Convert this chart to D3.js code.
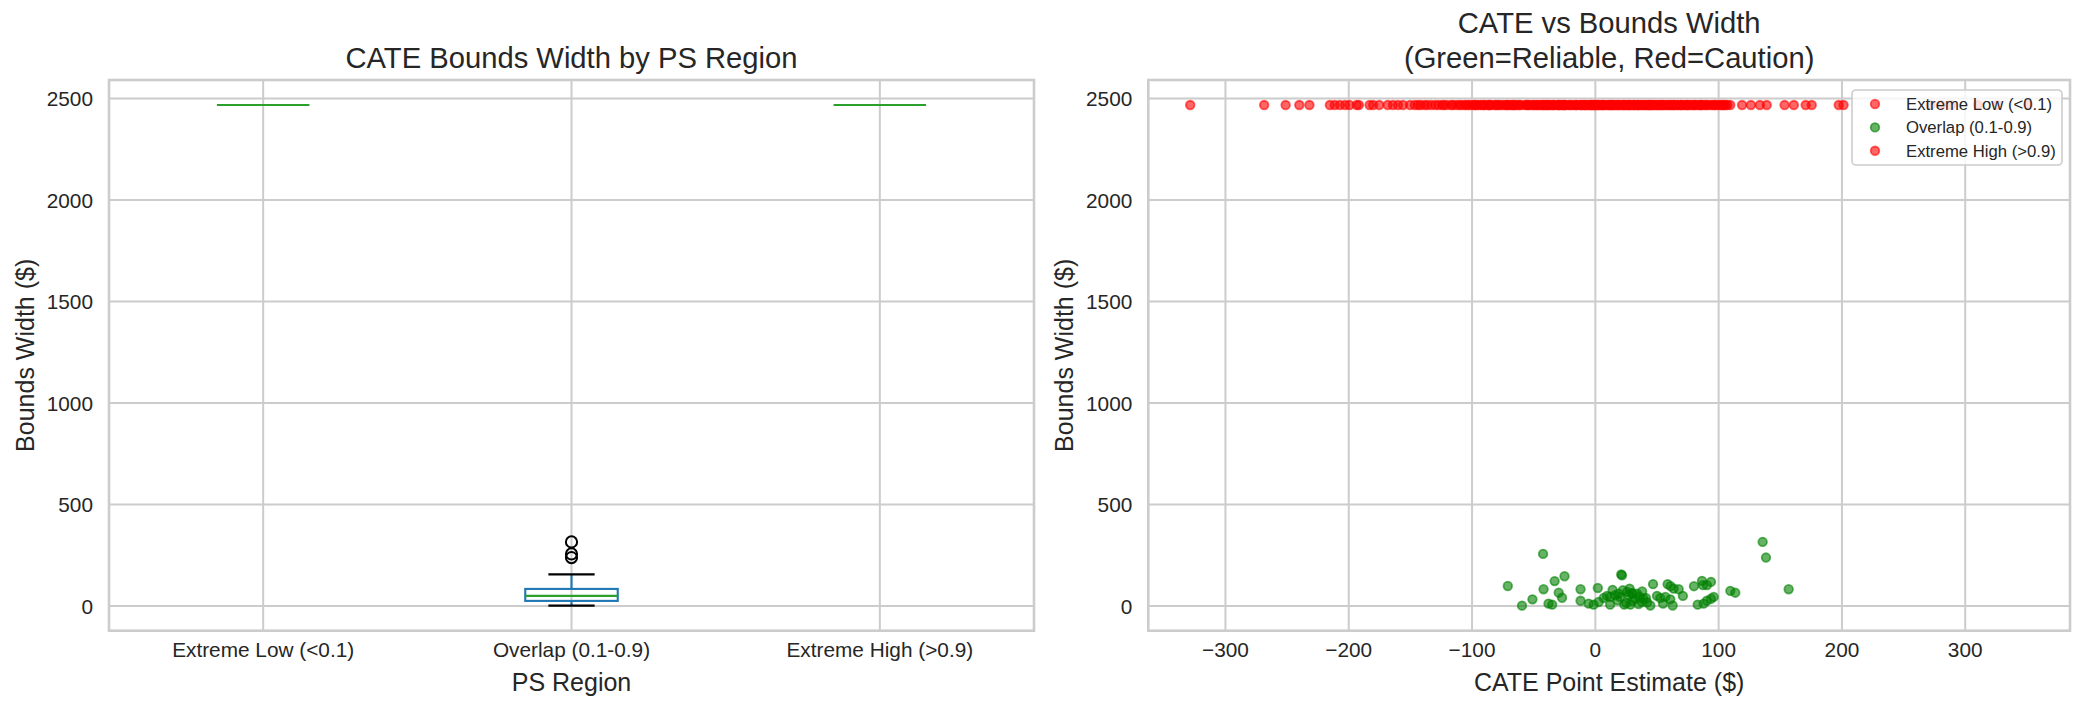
<!DOCTYPE html>
<html>
<head>
<meta charset="utf-8">
<script src="https://cdn.jsdelivr.net/npm/d3@7/dist/d3.min.js"></script>
<style>
  body { margin: 0; background: #fff; }
  text { font-family: "Liberation Sans", Arial, sans-serif; fill: #262626; }
</style>
</head>
<body>
<svg id="chart" width="2084" height="712"></svg>
<script>
// ---- data ----
var regions = ["Extreme Low (<0.1)", "Overlap (0.1-0.9)", "Extreme High (>0.9)"];
var yTicks = [0, 500, 1000, 1500, 2000, 2500];
var xTicks = [-300, -200, -100, 0, 100, 200, 300];

// every extreme-PS unit gets the same (maximal) bounds width
var extremeWidth = 2468;

var lowCate = [-328.6, -251.2, -231.9, -211.4, -203.0, -193.6, -183.1, -175.3, -164.2, -156.0,
  -146.4, -136.2, -129.8, -120.5, -112.9, -106.3, -98.7, -95.2, -89.6, -84.1, -77.9, -74.3,
  -67.5, -64.8, -57.2, -52.6, -49.9, -43.1, -39.4, -36.2, -30.7, -26.1, -23.8, -17.5, -14.9,
  -9.6, -5.3, -2.8, 1.4, 4.9, 8.2, 13.7, 16.5, 20.1, 24.6, 28.3, 33.9, 36.4, 40.8, 45.2, 48.7,
  52.9, 58.1, 61.6, 66.3, 71.8, 76.4, 82.5, 87.1, 93.6, 99.2, 105.8, 119.0, 133.5, 153.5,
  170.6, 197.4, 271.8, 288.3, 326.0,
  -141.7, -124.3, -108.8, -101.5, -93.4, -86.2, -81.3, -72.6, -69.1, -61.7, -55.0, -47.6,
  -44.8, -38.3, -33.9, -29.2, -24.7, -19.6, -12.3, -8.4, -4.1, -0.9, 2.6, 6.3, 11.5, 14.8,
  19.2, 23.3, 27.4, 31.8, 34.7, 39.6, 42.9, 46.3, 51.4, 54.7, 60.2, 63.9, 68.8, 73.5, 77.7,
  81.2, 86.0, 91.4, 97.3, 103.6, 109.4];

var highCate = [-268.6, -240.1, -215.3, -207.2, -199.4, -191.8, -180.2, -168.4, -160.1, -150.3,
  -143.8, -133.1, -127.2, -117.0, -110.4, -102.9, -96.8, -91.7, -87.0, -80.6, -76.2, -70.9,
  -65.4, -60.3, -55.8, -50.7, -46.2, -41.5, -37.8, -33.0, -28.4, -25.0, -20.3, -16.2, -11.8,
  -7.9, -3.6, -0.5, 3.1, 6.7, 10.9, 12.4, 18.3, 22.7, 26.9, 30.6, 35.1, 38.9, 43.5, 47.0, 50.8,
  55.4, 59.7, 64.2, 69.5, 74.1, 79.6, 85.3, 90.2, 96.7, 102.4, 107.1, 126.2, 139.0, 161.0,
  175.5, 201.3, 280.4, 310.2, 351.0,
  -138.5, -122.7, -115.6, -104.7, -97.9, -90.3, -85.5, -79.2, -71.4, -66.9, -62.5, -54.1,
  -48.3, -42.7, -40.2, -34.8, -30.1, -26.9, -21.4, -15.3, -10.7, -6.8, -1.7, 0.8, 5.5, 9.6,
  14.1, 17.2, 21.8, 25.7, 29.5, 32.2, 37.6, 41.9, 44.4, 49.3, 53.6, 57.0, 62.8, 66.9, 70.3,
  75.2, 80.1, 84.4, 89.0, 95.1, 101.2, 104.4];

var overlapCate = [-71, -59.5, -51, -42.4, -42, -38, -35, -33, -29.7, -27, -25, -12, -12, -5.4,
  -1.4, 2, 2.7, 6.8, 9.5, 12, 12, 14, 16, 19, 20, 21, 21.6, 22.4, 23.5, 25.7, 27, 27.8, 28.4,
  29.7, 32.4, 33.8, 36, 37.8, 39, 41, 44.6, 46.8, 50, 52.7, 54.9, 56.8, 58.6, 61, 63.5, 60.8,
  62.7, 67.6, 71, 80, 83, 86.5, 87.3, 90.5, 93.8, 87.8, 90.5, 93.8, 96, 109.5, 113.5, 135.7,
  138.4, 156.8, 25, 30, 18, 35, 42, 30, 38];
var overlapWidth = [99, 2, 33, 257, 83, 12, 7, 123, 66, 41, 147, 83, 26, 12,
  7, 89, 20, 40, 50, 45, 7, 80, 53, 61, 45, 156, 151, 78, 7, 70, 53, 86, 7,
  61, 36, 61, 45, 20, 36, 40, 3, 108, 50, 40, 12, 45, 108, 98, 86, 33,
  3, 83, 50, 98, 7, 124, 103, 103, 119, 12, 26, 36, 45, 75, 66, 316,
  239, 83, 15, 25, 28, 10, 18, 65, 72];

// ---- layout ----
var svg = d3.select("#chart");
var plotTop = 80, plotBottom = 630.7;
var gridColor = "#cccccc";

var groups = [
  lowCate.map(function() { return extremeWidth; }),
  overlapWidth,
  highCate.map(function() { return extremeWidth; })
];

var allW = d3.merge(groups);
var wMin = d3.min(allW), wMax = d3.max(allW), wPad = 0.05 * (wMax - wMin);
var y = d3.scaleLinear()
    .domain([wMin - wPad, wMax + wPad])
    .range([plotBottom, plotTop]);

var allCate = d3.merge([lowCate, overlapCate, highCate]);
var cMin = d3.min(allCate), cMax = d3.max(allCate), cPad = 0.05 * (cMax - cMin);

var xBox = d3.scaleLinear().domain([0.5, 3.5]).range([109, 1034]);
var xSc = d3.scaleLinear().domain([cMin - cPad, cMax + cPad]).range([1148.3, 2070]);

function boxStats(values) {
  var v = values.slice().sort(d3.ascending);
  var q1 = d3.quantile(v, 0.25), med = d3.quantile(v, 0.5), q3 = d3.quantile(v, 0.75);
  var iqr = q3 - q1;
  var lo = d3.min(v.filter(function(d) { return d >= q1 - 1.5 * iqr; }));
  var hi = d3.max(v.filter(function(d) { return d <= q3 + 1.5 * iqr; }));
  return {q1: q1, med: med, q3: q3, lo: lo, hi: hi,
          fliers: v.filter(function(d) { return d < lo || d > hi; })};
}

function drawFrame(g, x, xTickVals, xTickText) {
  g.append("g").selectAll("line.hgrid")
    .data(yTicks).enter().append("line")
      .attr("x1", x.range()[0]).attr("x2", x.range()[1])
      .attr("y1", y).attr("y2", y)
      .attr("stroke", gridColor).attr("stroke-width", 2);
  g.append("g").selectAll("line.vgrid")
    .data(xTickVals).enter().append("line")
      .attr("x1", x).attr("x2", x)
      .attr("y1", plotTop).attr("y2", plotBottom)
      .attr("stroke", gridColor).attr("stroke-width", 2);

  g.append("g").selectAll("text")
    .data(yTicks).enter().append("text")
      .attr("x", x.range()[0] - 16)
      .attr("y", y)
      .attr("dy", "0.36em")
      .attr("text-anchor", "end")
      .style("font-size", "20.8px")
      .text(function(d) { return d; });
  g.append("g").selectAll("text")
    .data(xTickVals).enter().append("text")
      .attr("x", x)
      .attr("y", 657)
      .attr("text-anchor", "middle")
      .style("font-size", "20.8px")
      .text(xTickText);
}

function drawSpines(g, x) {
  g.append("rect")
    .attr("x", x.range()[0]).attr("y", plotTop)
    .attr("width", x.range()[1] - x.range()[0])
    .attr("height", plotBottom - plotTop)
    .attr("fill", "none")
    .attr("stroke", gridColor)
    .attr("stroke-width", 2.6);
}

// ---- left: box plot ----
var left = svg.append("g");
drawFrame(left, xBox, [1, 2, 3], function(d) { return regions[d - 1]; });

var stats = groups.map(boxStats);
var boxes = left.append("g").selectAll("g")
  .data(stats).enter().append("g");

boxes.each(function(s, i) {
  var g = d3.select(this), p = i + 1;
  // whiskers
  g.append("line").attr("x1", xBox(p)).attr("x2", xBox(p))
    .attr("y1", y(s.q1)).attr("y2", y(s.lo))
    .attr("stroke", "#1f77b4").attr("stroke-width", 2.1);
  g.append("line").attr("x1", xBox(p)).attr("x2", xBox(p))
    .attr("y1", y(s.q3)).attr("y2", y(s.hi))
    .attr("stroke", "#1f77b4").attr("stroke-width", 2.1);
  // caps
  [s.lo, s.hi].forEach(function(c) {
    g.append("line").attr("x1", xBox(p - 0.075)).attr("x2", xBox(p + 0.075))
      .attr("y1", y(c)).attr("y2", y(c))
      .attr("stroke", "#000").attr("stroke-width", 2.1);
  });
  // box
  g.append("rect")
    .attr("x", xBox(p - 0.15)).attr("width", xBox(p + 0.15) - xBox(p - 0.15))
    .attr("y", y(s.q3)).attr("height", y(s.q1) - y(s.q3))
    .attr("fill", "none").attr("stroke", "#1f77b4").attr("stroke-width", 2.1);
  // median
  g.append("line").attr("x1", xBox(p - 0.15)).attr("x2", xBox(p + 0.15))
    .attr("y1", y(s.med)).attr("y2", y(s.med))
    .attr("stroke", "#2ca02c").attr("stroke-width", 2.1);
  // fliers
  g.selectAll("circle").data(s.fliers).enter().append("circle")
    .attr("cx", xBox(p)).attr("cy", y).attr("r", 5.6)
    .attr("fill", "none").attr("stroke", "#000").attr("stroke-width", 2);
});
drawSpines(left, xBox);

left.append("text")
  .attr("x", 571.5).attr("y", 68)
  .attr("text-anchor", "middle")
  .style("font-size", "29.2px")
  .text("CATE Bounds Width by PS Region");
left.append("text")
  .attr("x", 571.5).attr("y", 691)
  .attr("text-anchor", "middle")
  .style("font-size", "25px")
  .text("PS Region");
left.append("text")
  .attr("transform", "translate(34," + (plotTop + plotBottom) / 2 + ") rotate(-90)")
  .attr("text-anchor", "middle")
  .style("font-size", "25px")
  .text("Bounds Width ($)");

// ---- right: scatter ----
var right = svg.append("g");
drawFrame(right, xSc, xTicks, function(d) { return d < 0 ? "\u2212" + (-d) : d; });

var series = [
  {name: regions[0], color: "red",   xs: lowCate,     ws: groups[0]},
  {name: regions[1], color: "green", xs: overlapCate, ws: overlapWidth},
  {name: regions[2], color: "red",   xs: highCate,    ws: groups[2]}
];

series.forEach(function(s) {
  right.append("g").selectAll("circle")
    .data(s.xs).enter().append("circle")
      .attr("cx", function(d) { return xSc(d); })
      .attr("cy", function(d, i) { return y(s.ws[i]); })
      .attr("r", 4.3)
      .attr("fill", s.color).attr("fill-opacity", 0.6)
      .attr("stroke", s.color).attr("stroke-opacity", 0.6)
      .attr("stroke-width", 1.8);
});
drawSpines(right, xSc);

var midR = (xSc.range()[0] + xSc.range()[1]) / 2;
right.append("text")
  .attr("x", midR).attr("y", 33)
  .attr("text-anchor", "middle")
  .style("font-size", "29.2px")
  .text("CATE vs Bounds Width");
right.append("text")
  .attr("x", midR).attr("y", 68)
  .attr("text-anchor", "middle")
  .style("font-size", "29.2px")
  .text("(Green=Reliable, Red=Caution)");
right.append("text")
  .attr("x", midR).attr("y", 691)
  .attr("text-anchor", "middle")
  .style("font-size", "25px")
  .text("CATE Point Estimate ($)");
right.append("text")
  .attr("transform", "translate(1073," + (plotTop + plotBottom) / 2 + ") rotate(-90)")
  .attr("text-anchor", "middle")
  .style("font-size", "25px")
  .text("Bounds Width ($)");

// legend
var legend = right.append("g");
legend.append("rect")
  .attr("x", 1852).attr("y", 90).attr("width", 210).attr("height", 75)
  .attr("rx", 4)
  .attr("fill", "#fff").attr("fill-opacity", 0.8)
  .attr("stroke", "#cccccc").attr("stroke-width", 1.6);
var items = legend.selectAll("g.item").data(series).enter().append("g")
  .attr("transform", function(d, i) { return "translate(0," + (104 + i * 23.4) + ")"; });
items.append("circle")
  .attr("cx", 1875).attr("cy", 0).attr("r", 4.3)
  .attr("fill", function(d) { return d.color; }).attr("fill-opacity", 0.6)
  .attr("stroke", function(d) { return d.color; }).attr("stroke-opacity", 0.6)
  .attr("stroke-width", 1.8);
items.append("text")
  .attr("x", 1906).attr("y", 0).attr("dy", "0.36em")
  .style("font-size", "16.7px")
  .text(function(d) { return d.name; });
</script>
</body>
</html>
